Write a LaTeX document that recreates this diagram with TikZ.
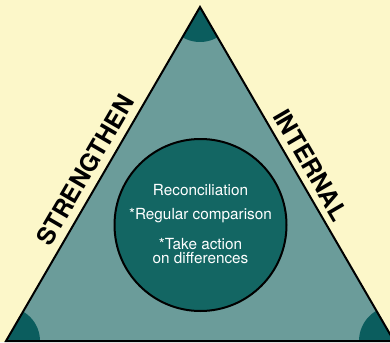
\documentclass[tikz,border=0pt]{standalone}
\usepackage{fontspec}
\newfontfamily\helv{TeX Gyre Heros}
\definecolor{bgyellow}{HTML}{FCF7C9}
\definecolor{trifill}{HTML}{6B9C9A}
\definecolor{circfill}{HTML}{136663}
\definecolor{arcfill}{HTML}{0B5D5E}
\tikzset{
  sidelabel/.style={font=\helv\bfseries\fontsize{24.5}{24.5}\selectfont, text=black, inner sep=0pt},
  circtext/.style={font=\helv\fontsize{15.3}{14}\selectfont, text=white, align=center, inner sep=0pt},
}
\begin{document}
\begin{tikzpicture}[x=1pt,y=-1pt]
\fill[bgyellow] (0,0) rectangle (390,342);
\useasboundingbox (0,0) rectangle (390,342);
\coordinate (A) at (200,7);
\coordinate (L) at (6,341);
\coordinate (R) at (394,341);
\fill[trifill] (A) -- (L) -- (R) -- cycle;
\begin{scope}
\clip (A) -- (L) -- (R) -- cycle;
\fill[arcfill] (A) circle (35);
\fill[arcfill] (L) circle (34);
\fill[arcfill] (R) circle (35);
\end{scope}
\draw[black, line width=2pt, line join=miter] (A) -- (L) -- (R) -- cycle;
\node[circle, draw=black, line width=2pt, fill=circfill, minimum size=172] (c) at (200.5,225) {};
\node[circtext] (t1) at (200.5,190) {Reconciliation};
\node[circtext] (t2) at (200.5,216) {*Regular comparison};
\node[circtext] (t3) at (200.5,251) {*Take action\\on differences};
\node[sidelabel, rotate=59.8] (s) at (85,170) {STRENGTHEN};
\node[sidelabel, rotate=-59.8] (i) at (311,165) {INTERNAL};
\end{tikzpicture}
\end{document}
